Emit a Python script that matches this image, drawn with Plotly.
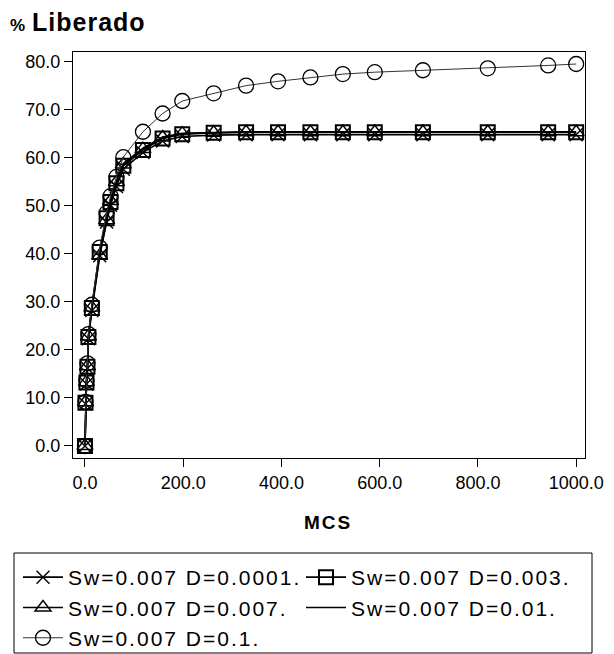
import plotly.graph_objects as go

# Monte Carlo steps (shared sampling grid)
mcs = [0, 1, 3, 5, 7, 14, 30, 44, 52, 64, 78, 118, 158, 198, 262, 328, 393,
       459, 525, 590, 688, 820, 943, 1000]

# % released for Sw = 0.007 and each diffusion coefficient D
d_0001 = [0, 8.8, 12.9, 16.2, 22.3, 28.2, 39.6, 46.6, 50.1, 54.0, 57.6, 61.1,
          63.5, 64.4, 64.7, 64.8, 64.8, 64.8, 64.8, 64.8, 64.8, 64.8, 64.8, 64.8]
d_003 = [0, 9.0, 13.2, 16.5, 22.7, 28.7, 40.4, 47.4, 50.8, 54.7, 58.3, 61.6,
         64.0, 64.9, 65.2, 65.3, 65.3, 65.3, 65.3, 65.3, 65.3, 65.3, 65.3, 65.3]
d_007 = [0, 9.1, 13.3, 16.6, 22.8, 28.8, 39.6, 47.0, 51.0, 54.9, 58.6, 61.8,
         64.2, 65.0, 65.2, 65.3, 65.3, 65.3, 65.3, 65.3, 65.3, 65.3, 65.3, 65.3]
d_01 = [0, 9.1, 13.4, 16.8, 23.0, 29.0, 40.7, 47.8, 51.2, 55.1, 58.8, 62.0,
        64.3, 65.1, 65.3, 65.4, 65.4, 65.4, 65.4, 65.4, 65.4, 65.4, 65.4, 65.4]
d_1 = [0, 9.2, 13.6, 17.2, 23.3, 29.4, 41.3, 48.5, 52.0, 56.0, 60.1, 65.4,
       69.2, 71.8, 73.4, 75.0, 75.9, 76.7, 77.4, 77.8, 78.2, 78.6, 79.2, 79.5]

series_names = ["Sw=0.007 D=0.0001.", "Sw=0.007 D=0.003.", "Sw=0.007 D=0.007.",
                "Sw=0.007 D=0.01.", "Sw=0.007 D=0.1."]

x_ticks = [0, 200, 400, 600, 800, 1000]
y_ticks = [0, 10, 20, 30, 40, 50, 60, 70, 80]

FONT = "Liberation Sans, Arial, sans-serif"
W, H = 614, 654
L, R, T, B = 73, 29, 52, 196
PW, PH = W - L - R, H - T - B


def px(xp):
    return (xp - L) / PW


def py(yp):
    return (H - B - yp) / PH


def spaced(text, gap):
    return f"<span style='letter-spacing:{gap}px'>{text}</span>"


fig = go.Figure()

styles = [
    (d_0001, "x-thin-open", 13, 1.6, 1.4),
    (d_003, "square-open", 14, 1.6, 2.0),
    (d_007, "triangle-up-open", 14, 1.6, 1.4),
    (d_01, None, 0, 1.6, 0),
    (d_1, "circle-open", 15, 1.0, 1.3),
]

for name, (vals, sym, size, lw, mlw) in zip(series_names, styles):
    if sym is None:
        fig.add_trace(go.Scatter(
            x=mcs, y=vals, name=spaced(name, 2), mode="lines",
            line=dict(color="black", width=lw),
        ))
    else:
        fig.add_trace(go.Scatter(
            x=mcs, y=vals, name=spaced(name, 2), mode="lines+markers",
            line=dict(color="black" if sym != "circle-open" else "#333333",
                      width=lw),
            marker=dict(symbol=sym, size=size, color="black",
                        line=dict(color="black", width=mlw)),
        ))

axis_common = dict(
    showgrid=False, zeroline=False, showline=True, mirror=True,
    linecolor="black", linewidth=1, ticks="outside", ticklen=8,
    tickcolor="black", tickwidth=1, tickformat=".1f",
    tickfont=dict(family=FONT, size=18, color="black"),
)

fig.update_xaxes(range=[-24.4, 1018], tickvals=x_ticks, **axis_common)
fig.update_yaxes(range=[-2.5, 82.0], tickvals=y_ticks, **axis_common)

fig.update_layout(
    width=W, height=H,
    margin=dict(l=L, r=R, t=T, b=B, autoexpand=False),
    paper_bgcolor="white", plot_bgcolor="white",
    font=dict(family=FONT, color="black"),
    showlegend=True,
    legend=dict(
        orientation="h", x=px(18), y=py(557), xanchor="left", yanchor="top",
        entrywidth=228, entrywidthmode="pixels", itemwidth=40,
        font=dict(family=FONT, size=21, color="black"),
        bgcolor="rgba(0,0,0,0)", borderwidth=0, tracegroupgap=0,
    ),
    annotations=[
        dict(text="<b><span style='font-size:17px'>%</span> "
                  + spaced("Liberado", 1) + "</b>",
             xref="paper", yref="paper", x=px(8), y=py(22),
             xanchor="left", yanchor="middle", showarrow=False,
             font=dict(family=FONT, size=25, color="black")),
        dict(text="<b>" + spaced("MCS", 2) + "</b>", xref="paper", yref="paper",
             x=px(328), y=py(522), xanchor="center", yanchor="middle",
             showarrow=False, font=dict(family=FONT, size=19, color="black")),
    ],
    shapes=[
        dict(type="rect", xref="paper", yref="paper",
             x0=px(14), x1=px(592), y0=py(653), y1=py(553),
             line=dict(color="black", width=1), fillcolor="rgba(0,0,0,0)"),
    ],
)

fig.write_html("out.html")
